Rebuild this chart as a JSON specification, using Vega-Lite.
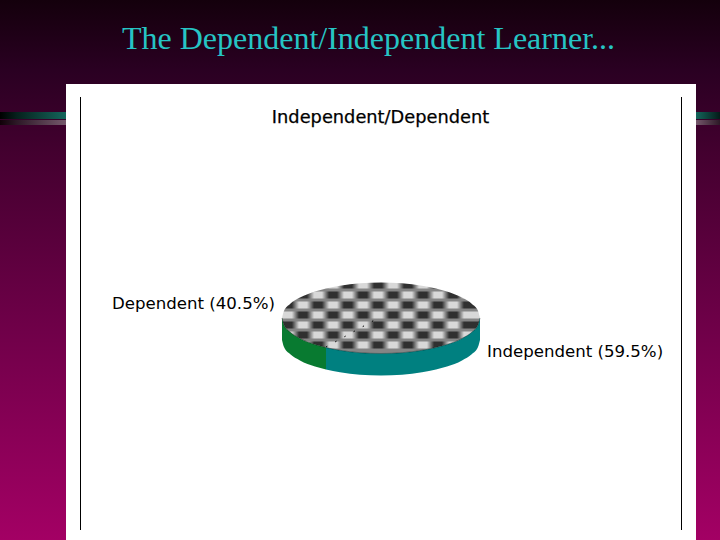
{
"$schema":"https://vega.github.io/schema/vega-lite/v6.json",
"width":720,"height":540,"padding":0,
"autosize":{"type":"fit","contains":"padding"},
"background":"#000000",
"config":{"view":{"stroke":null}},
"datasets":{
"rim":[
{"x":282,"upper":318,"lower":318},{"x":284,"upper":310.9,"lower":325.1},{"x":290,"upper":304,"lower":332},{"x":300,"upper":297.6,"lower":338.4},{"x":315,"upper":291.5,"lower":344.5},{"x":326,"upper":288.5,"lower":347.5},{"x":340,"upper":285.7,"lower":350.3},{"x":360,"upper":283.3,"lower":352.7},{"x":381,"upper":282.5,"lower":353.5},{"x":402,"upper":283.3,"lower":352.7},{"x":422,"upper":285.7,"lower":350.3},{"x":436,"upper":288.5,"lower":347.5},{"x":447,"upper":291.5,"lower":344.5},{"x":462,"upper":297.6,"lower":338.4},{"x":472,"upper":304,"lower":332},{"x":478,"upper":310.9,"lower":325.1},{"x":480,"upper":318,"lower":318}
],
"side":[
{"slice":"Dependent","share":40.5,"x":282,"y":318,"y2":340},{"slice":"Dependent","share":40.5,"x":284,"y":325.1,"y2":347},{"slice":"Dependent","share":40.5,"x":290,"y":332,"y2":354},{"slice":"Dependent","share":40.5,"x":300,"y":338.4,"y2":360.4},{"slice":"Dependent","share":40.5,"x":315,"y":344.5,"y2":366.5},{"slice":"Dependent","share":40.5,"x":326,"y":347.5,"y2":369.5},
{"slice":"Independent","share":59.5,"x":326,"y":347.5,"y2":369.5},{"slice":"Independent","share":59.5,"x":340,"y":350.3,"y2":372.3},{"slice":"Independent","share":59.5,"x":360,"y":352.7,"y2":374.7},{"slice":"Independent","share":59.5,"x":381,"y":353.5,"y2":375.5},{"slice":"Independent","share":59.5,"x":402,"y":352.7,"y2":374.7},{"slice":"Independent","share":59.5,"x":422,"y":350.3,"y2":372.3},{"slice":"Independent","share":59.5,"x":436,"y":347.5,"y2":369.5},{"slice":"Independent","share":59.5,"x":447,"y":344.5,"y2":366.5},{"slice":"Independent","share":59.5,"x":462,"y":338.4,"y2":360.4},{"slice":"Independent","share":59.5,"x":472,"y":332,"y2":354},{"slice":"Independent","share":59.5,"x":478,"y":325.1,"y2":347},{"slice":"Independent","share":59.5,"x":480,"y":318,"y2":340}
]
},
"data":{"name":"rim"},
"encoding":{
"x":{"field":"x","type":"quantitative","scale":{"domain":[0,720],"nice":false,"zero":false},"axis":null},
"y":{"field":"y","type":"quantitative","scale":{"domain":[540,0],"nice":false,"zero":false},"axis":null}
},
"layer":[
{"data":{"values":[{"x":0,"x2":720,"y":0,"y2":540}]},
 "mark":{"type":"rect","fill":{"gradient":"linear","x1":0,"y1":0,"x2":0,"y2":1,"stops":[{"offset":0,"color":"#14000c"},{"offset":0.13,"color":"#2a0022"},{"offset":0.28,"color":"#43002f"},{"offset":0.6,"color":"#6e0048"},{"offset":1,"color":"#a30064"}]}},
 "encoding":{"x2":{"field":"x2"},"y2":{"field":"y2"}}},
{"data":{"values":[{"x":0,"x2":66,"y":112,"y2":119}]},
 "mark":{"type":"rect","fill":{"gradient":"linear","x1":0,"y1":0,"x2":1,"y2":0,"stops":[{"offset":0,"color":"#000000"},{"offset":0.25,"color":"#06201c"},{"offset":1,"color":"#14665c"}]}},
 "encoding":{"x2":{"field":"x2"},"y2":{"field":"y2"}}},
{"data":{"values":[{"x":0,"x2":66,"y":120,"y2":125}]},
 "mark":{"type":"rect","fill":{"gradient":"linear","x1":0,"y1":0,"x2":1,"y2":0,"stops":[{"offset":0,"color":"#100008"},{"offset":0.25,"color":"#2c1826"},{"offset":1,"color":"#75586c"}]}},
 "encoding":{"x2":{"field":"x2"},"y2":{"field":"y2"}}},
{"data":{"values":[{"x":696,"x2":720,"y":112,"y2":119}]},
 "mark":{"type":"rect","fill":{"gradient":"linear","x1":0,"y1":0,"x2":1,"y2":0,"stops":[{"offset":0,"color":"#14665c"},{"offset":1,"color":"#041a18"}]}},
 "encoding":{"x2":{"field":"x2"},"y2":{"field":"y2"}}},
{"data":{"values":[{"x":696,"x2":720,"y":120,"y2":125}]},
 "mark":{"type":"rect","fill":{"gradient":"linear","x1":0,"y1":0,"x2":1,"y2":0,"stops":[{"offset":0,"color":"#75586c"},{"offset":1,"color":"#2c1826"}]}},
 "encoding":{"x2":{"field":"x2"},"y2":{"field":"y2"}}},
{"data":{"values":[{"x":66,"x2":696,"y":84,"y2":540}]},
 "mark":{"type":"rect","fill":"#ffffff"},
 "encoding":{"x2":{"field":"x2"},"y2":{"field":"y2"}}},
{"data":{"values":[{"x":80.5,"y":97,"y2":530},{"x":681.5,"y":97,"y2":530}]},
 "mark":{"type":"rule","stroke":"#000000","strokeWidth":1},
 "encoding":{"y2":{"field":"y2"}}},
{"data":{"values":[{"x":282,"x2":480,"y":282,"y2":354}]},
 "mark":{"type":"rect","fill":"#858585"},
 "encoding":{"x2":{"field":"x2"},"y2":{"field":"y2"}}},
{"data":{"values":[{"x":282,"x2":480,"y":281.5,"y2":288.5},{"x":282,"x2":480,"y":301.5,"y2":308.5},{"x":282,"x2":480,"y":321.5,"y2":328.5},{"x":282,"x2":480,"y":341.5,"y2":348.5}]},
 "mark":{"type":"rect","fill":{"gradient":"linear","x1":0,"y1":0,"x2":1,"y2":0,"stops":[{"offset":0.01,"color":"#303030"},{"offset":0.05,"color":"#303030"},{"offset":0.086,"color":"#d8d8d8"},{"offset":0.126,"color":"#d8d8d8"},{"offset":0.162,"color":"#303030"},{"offset":0.202,"color":"#303030"},{"offset":0.238,"color":"#d8d8d8"},{"offset":0.278,"color":"#d8d8d8"},{"offset":0.313,"color":"#303030"},{"offset":0.353,"color":"#303030"},{"offset":0.389,"color":"#d8d8d8"},{"offset":0.429,"color":"#d8d8d8"},{"offset":0.465,"color":"#303030"},{"offset":0.505,"color":"#303030"},{"offset":0.541,"color":"#d8d8d8"},{"offset":0.581,"color":"#d8d8d8"},{"offset":0.616,"color":"#303030"},{"offset":0.656,"color":"#303030"},{"offset":0.692,"color":"#d8d8d8"},{"offset":0.732,"color":"#d8d8d8"},{"offset":0.768,"color":"#303030"},{"offset":0.808,"color":"#303030"},{"offset":0.844,"color":"#d8d8d8"},{"offset":0.884,"color":"#d8d8d8"},{"offset":0.919,"color":"#303030"},{"offset":0.959,"color":"#303030"}]}},
 "encoding":{"x2":{"field":"x2"},"y2":{"field":"y2"}}},
{"data":{"values":[{"x":282,"x2":480,"y":291.5,"y2":298.5},{"x":282,"x2":480,"y":311.5,"y2":318.5},{"x":282,"x2":480,"y":331.5,"y2":338.5}]},
 "mark":{"type":"rect","fill":{"gradient":"linear","x1":0,"y1":0,"x2":1,"y2":0,"stops":[{"offset":0.01,"color":"#d8d8d8"},{"offset":0.05,"color":"#d8d8d8"},{"offset":0.086,"color":"#303030"},{"offset":0.126,"color":"#303030"},{"offset":0.162,"color":"#d8d8d8"},{"offset":0.202,"color":"#d8d8d8"},{"offset":0.238,"color":"#303030"},{"offset":0.278,"color":"#303030"},{"offset":0.313,"color":"#d8d8d8"},{"offset":0.353,"color":"#d8d8d8"},{"offset":0.389,"color":"#303030"},{"offset":0.429,"color":"#303030"},{"offset":0.465,"color":"#d8d8d8"},{"offset":0.505,"color":"#d8d8d8"},{"offset":0.541,"color":"#303030"},{"offset":0.581,"color":"#303030"},{"offset":0.616,"color":"#d8d8d8"},{"offset":0.656,"color":"#d8d8d8"},{"offset":0.692,"color":"#303030"},{"offset":0.732,"color":"#303030"},{"offset":0.768,"color":"#d8d8d8"},{"offset":0.808,"color":"#d8d8d8"},{"offset":0.844,"color":"#303030"},{"offset":0.884,"color":"#303030"},{"offset":0.919,"color":"#d8d8d8"},{"offset":0.959,"color":"#d8d8d8"}]}},
 "encoding":{"x2":{"field":"x2"},"y2":{"field":"y2"}}},
{"mark":{"type":"area","fill":"#ffffff","interpolate":"monotone"},
 "encoding":{"y":{"field":"upper","type":"quantitative"},"y2":{"datum":278}}},
{"mark":{"type":"area","fill":"#ffffff","interpolate":"monotone"},
 "encoding":{"y":{"field":"lower","type":"quantitative"},"y2":{"datum":358}}},
{"data":{"values":[{"x":380,"y":317},{"x":326,"y":347}]},
 "mark":{"type":"line","stroke":"#000000","strokeWidth":1,"strokeDash":[1.5,9]},"encoding":{}},
{"data":{"name":"side"},
 "mark":{"type":"area","interpolate":"monotone"},
 "encoding":{"y2":{"field":"y2"},"color":{"field":"slice","type":"nominal","scale":{"domain":["Dependent","Independent"],"range":["#087a30","#008080"]},"legend":null}}},
{"mark":{"type":"line","interpolate":"monotone","stroke":"#000000","strokeWidth":0.6,"opacity":0.6},
 "encoding":{"y":{"field":"lower","type":"quantitative"}}},
{"data":{"values":[{"x":380.5,"y":118,"label":"Independent/Dependent"}]},
 "mark":{"type":"text","font":"DejaVu Sans","fontSize":17.8,"stroke":"#000000","strokeWidth":0.25,"align":"center","baseline":"middle","fill":"#000000"},
 "encoding":{"text":{"field":"label"}}},
{"data":{"values":[{"x":112,"y":304,"label":"Dependent (40.5%)","slice":"Dependent","share":40.5},{"x":487,"y":351.5,"label":"Independent (59.5%)","slice":"Independent","share":59.5}]},
 "mark":{"type":"text","font":"DejaVu Sans","fontSize":16.6,"align":"left","baseline":"middle","fill":"#000000"},
 "encoding":{"text":{"field":"label"}}},
{"data":{"values":[{"x":368.5,"y":39,"label":"The Dependent/Independent Learner..."}]},
 "mark":{"type":"text","font":"Liberation Serif","fontSize":32,"align":"center","baseline":"middle","fill":"#26c4c4"},
 "encoding":{"text":{"field":"label"}}}
]
}
